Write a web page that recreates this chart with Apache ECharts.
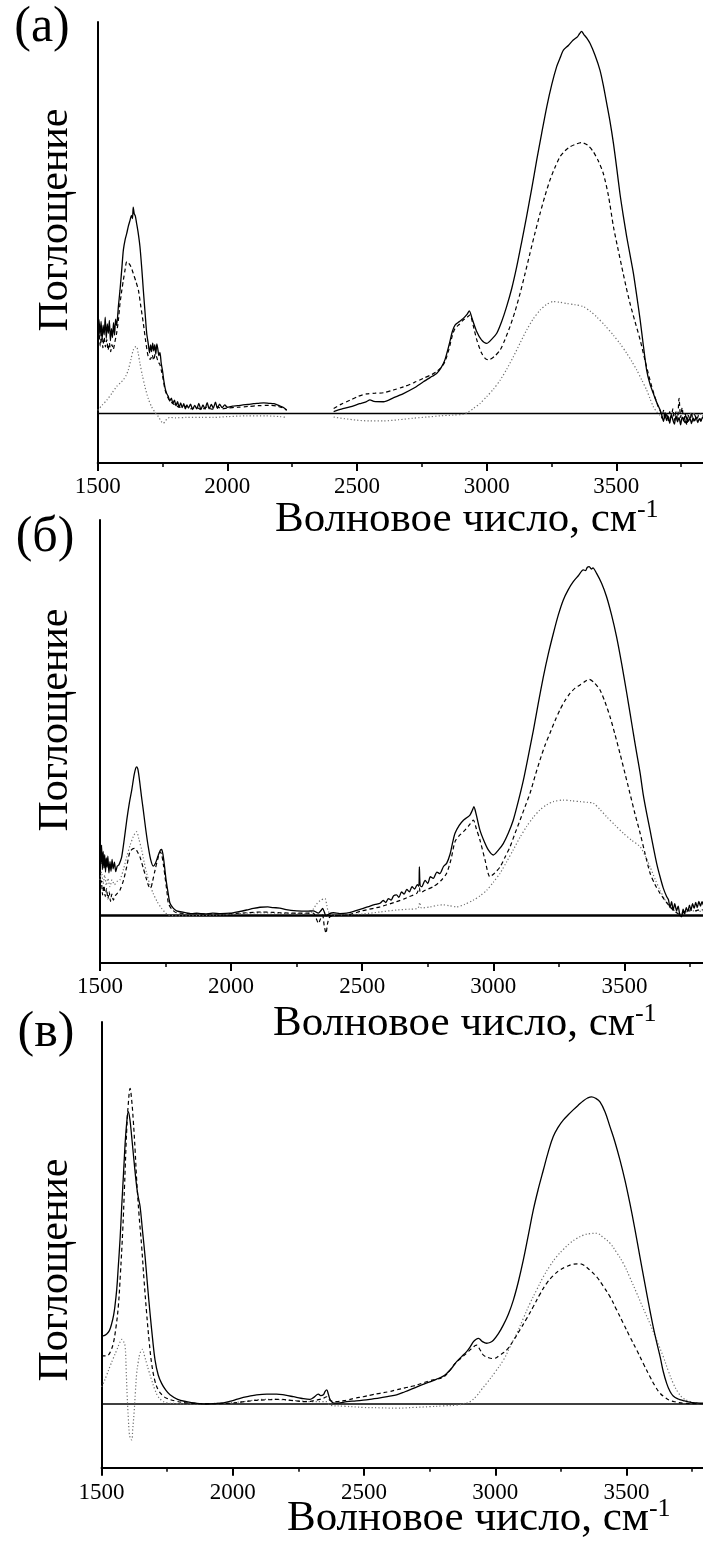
<!DOCTYPE html>
<html><head><meta charset="utf-8">
<script src="https://cdn.jsdelivr.net/npm/echarts@6/dist/echarts.min.js"></script>
<style>html,body{margin:0;padding:0;background:#fff}#c{width:703px;height:1542px}</style>
</head><body><div id="c"></div>
<script>
// Tick labels (x axis, wavenumber, cm-1)
const xTicks = [1500, 2000, 2500, 3000, 3500];
const panelLabels = ['(а)', '(б)', '(в)'];
const yTitle = 'Поглощение';
const xTitleMain = 'Волновое число, см';
const xTitleSup = '-1';

// Panel (а)
const aSolid = [[1500,21.5],[1505,24.0],[1509,19.8],[1513,23.5],[1517,18.9],[1521,22.6],[1525,20.1],[1529,24.6],[1533,19.2],[1537,22.9],[1541,20.5],[1545,23.8],[1549,18.6],[1553,21.7],[1557,19.4],[1561,23.2],[1565,20.0],[1569,24.1],[1573,22.5],[1580,27.5],[1586,31.5],[1593,37.0],[1599,41.8],[1606,44.5],[1612,46.0],[1618,47.8],[1625,49.4],[1630,50.6],[1634,49.8],[1637,52.7],[1641,51.0],[1645,50.5],[1650,48.6],[1656,46.2],[1663,42.6],[1670,37.0],[1676,31.5],[1683,25.5],[1689,20.5],[1695,17.8],[1700,15.5],[1704,17.5],[1708,15.8],[1712,18.0],[1716,16.0],[1720,17.6],[1724,15.2],[1728,17.8],[1732,16.4],[1736,14.8],[1740,15.6],[1745,12.8],[1750,10.9],[1755,8.4],[1760,6.5],[1766,5.1],[1772,4.4],[1778,3.2],[1784,3.9],[1790,2.6],[1796,3.4],[1802,2.0],[1808,3.0],[1814,1.6],[1820,2.7],[1826,1.5],[1832,2.5],[1838,1.2],[1844,2.2],[1850,1.4],[1858,2.4],[1866,1.0],[1874,2.1],[1882,1.2],[1890,2.6],[1898,1.0],[1906,2.2],[1914,1.1],[1922,2.8],[1930,1.2],[1938,2.3],[1946,1.4],[1954,2.9],[1962,1.3],[1970,2.4],[1980,1.5],[1990,2.2],[2000,1.6],[2020,1.9],[2040,2.0],[2060,2.2],[2080,2.3],[2100,2.5],[2120,2.6],[2140,2.7],[2160,2.6],[2180,2.5],[2200,2.0],[2215,1.6],[2229,0.9],[2300,null],
[2410,0.5],[2440,1.1],[2473,1.7],[2510,2.5],[2535,3.0],[2550,3.5],[2565,3.1],[2602,3.0],[2640,4.0],[2679,5.1],[2720,6.5],[2756,8.1],[2790,9.5],[2807,10.2],[2825,11.8],[2839,13.7],[2855,17.5],[2868,21.0],[2878,22.6],[2895,23.5],[2910,24.3],[2925,25.4],[2933,26.2],[2945,24.0],[2962,20.9],[2980,18.8],[3000,17.9],[3020,19.0],[3039,20.5],[3058,23.5],[3077,27.3],[3097,32.0],[3116,37.5],[3135,43.8],[3154,50.3],[3174,57.5],[3193,64.7],[3212,71.5],[3232,78.4],[3251,84.0],[3270,88.6],[3283,90.8],[3296,92.8],[3315,94.0],[3334,95.4],[3350,96.2],[3358,97.0],[3366,97.6],[3375,96.8],[3385,96.0],[3399,94.5],[3418,91.5],[3437,87.7],[3450,83.8],[3463,79.2],[3476,74.5],[3489,69.0],[3502,62.5],[3514,56.2],[3527,50.5],[3540,45.2],[3553,40.5],[3566,35.8],[3579,30.0],[3592,23.9],[3605,17.0],[3617,11.1],[3630,7.5],[3643,5.1],[3656,2.8],[3669,0.9],[3676,-0.6],[3682,-2.0],[3688,0.2],[3694,-1.8],[3700,-0.7],[3706,-2.5],[3712,-0.2],[3718,-1.6],[3724,-2.7],[3730,-0.6],[3736,-2.1],[3742,-1.0],[3748,-2.9],[3754,-0.9],[3760,-1.7],[3766,-2.4],[3772,-0.8],[3778,-2.0],[3784,-1.2],[3790,-2.6],[3796,-1.1],[3802,-1.9],[3808,-0.9],[3814,-2.3],[3820,-1.3],[3826,-2.0],[3832,-1.0],[3840,-1.7]];
const aDash = [[1500,18.5],[1505,21.0],[1510,17.2],[1515,20.4],[1520,16.8],[1525,19.5],[1530,17.0],[1535,18.9],[1540,16.2],[1545,18.0],[1550,15.8],[1555,17.6],[1560,16.4],[1566,18.2],[1573,20.5],[1580,24.0],[1586,28.1],[1593,31.5],[1599,34.1],[1605,36.5],[1612,38.8],[1618,38.5],[1625,37.9],[1631,37.0],[1637,35.8],[1647,33.8],[1657,31.5],[1666,27.5],[1676,23.0],[1685,18.5],[1695,14.5],[1703,13.8],[1710,15.0],[1716,13.6],[1722,15.2],[1727,14.5],[1733,13.2],[1740,12.5],[1747,10.5],[1753,8.6],[1760,6.0],[1772,3.9],[1785,2.8],[1800,2.1],[1817,1.6],[1840,1.8],[1860,1.2],[1880,1.6],[1900,1.0],[1920,1.6],[1940,1.1],[1960,1.7],[1980,1.2],[2000,1.4],[2040,1.6],[2080,1.8],[2120,2.0],[2160,2.1],[2190,1.9],[2215,1.4],[2229,0.8],[2300,null],
[2410,1.3],[2440,2.4],[2473,3.4],[2505,4.4],[2537,5.0],[2570,5.2],[2602,5.3],[2640,6.0],[2679,6.8],[2720,7.9],[2756,9.0],[2790,10.0],[2807,10.7],[2825,11.8],[2839,13.2],[2855,16.5],[2868,20.0],[2878,21.7],[2895,22.8],[2910,23.9],[2925,24.6],[2936,25.2],[2948,22.5],[2962,18.8],[2980,15.5],[2995,14.0],[3007,13.7],[3030,14.6],[3052,16.2],[3070,18.8],[3090,22.2],[3110,26.2],[3129,30.7],[3148,35.7],[3167,40.9],[3186,46.0],[3206,51.1],[3225,55.6],[3244,59.6],[3263,62.8],[3283,65.6],[3302,67.1],[3321,68.1],[3340,68.7],[3366,69.2],[3390,68.5],[3411,66.9],[3430,64.6],[3450,61.3],[3470,55.5],[3489,47.7],[3505,42.5],[3521,37.5],[3537,32.6],[3553,28.1],[3572,23.5],[3592,18.8],[3611,13.5],[3630,8.5],[3646,4.8],[3662,1.7],[3670,0.6],[3676,-1.2],[3682,0.8],[3688,-1.5],[3694,0.2],[3700,-2.0],[3706,0.5],[3712,-1.0],[3718,1.2],[3724,-1.8],[3730,0.4],[3736,-1.4],[3742,3.9],[3748,-1.0],[3754,1.5],[3760,-2.2],[3766,0.0],[3772,-3.0],[3778,-0.5],[3784,-1.6],[3790,0.3],[3796,-2.0],[3802,-0.3],[3810,-1.5],[3818,-0.4],[3826,-1.8],[3834,-0.6],[3840,-1.2]];
const aDot = [[1500,0.8],[1518,2.2],[1535,3.4],[1555,5.2],[1573,6.9],[1590,8.0],[1599,8.6],[1610,9.8],[1618,11.1],[1628,13.8],[1637,16.2],[1645,17.0],[1650,17.1],[1656,15.5],[1663,12.8],[1672,9.8],[1682,6.9],[1695,3.8],[1708,1.7],[1722,0.2],[1734,-0.8],[1745,-2.0],[1753,-2.5],[1762,-1.8],[1770,-1.2],[1779,-1.0],[1800,-1.1],[1843,-1.0],[1900,-1.0],[1946,-1.0],[2000,-0.8],[2075,-0.6],[2150,-0.6],[2203,-0.8],[2229,-1.0],[2300,null],
[2410,-0.9],[2450,-1.3],[2499,-1.7],[2550,-1.9],[2602,-1.9],[2660,-1.6],[2717,-1.2],[2770,-0.9],[2820,-0.6],[2870,-0.4],[2910,-0.2],[2930,0.4],[2949,1.3],[2975,2.6],[3000,4.3],[3026,6.2],[3052,8.5],[3078,11.4],[3103,14.5],[3129,18.0],[3154,21.3],[3180,24.2],[3206,26.4],[3230,27.8],[3257,28.6],[3283,28.4],[3309,28.1],[3340,27.8],[3373,27.3],[3400,26.1],[3424,24.7],[3456,22.5],[3489,20.0],[3515,17.8],[3540,15.4],[3560,13.3],[3579,11.1],[3598,8.6],[3617,6.0],[3630,3.8],[3643,1.7],[3656,0.4],[3669,-0.4],[3690,-0.2],[3710,0.3],[3730,-0.5],[3750,0.2],[3770,-0.4],[3790,0.1],[3810,-0.3],[3840,0.0]];

// Panel (б)
const bSolid = [[1500,19.1],[1503,13.0],[1506,17.8],[1509,11.6],[1512,16.2],[1515,12.0],[1518,15.4],[1521,11.0],[1524,14.6],[1527,12.2],[1530,15.0],[1534,10.8],[1538,13.6],[1542,11.2],[1546,14.2],[1550,11.8],[1555,13.5],[1560,11.1],[1566,12.5],[1572,12.8],[1578,13.8],[1583,14.9],[1592,19.0],[1602,24.1],[1612,28.5],[1621,31.7],[1630,35.5],[1636,37.2],[1640,37.6],[1645,36.8],[1652,33.5],[1658,30.2],[1665,26.7],[1675,21.5],[1684,17.4],[1693,14.2],[1703,12.5],[1712,13.3],[1722,15.2],[1730,16.5],[1735,16.7],[1740,15.5],[1746,12.5],[1752,9.0],[1760,5.6],[1767,3.1],[1780,1.8],[1792,1.2],[1820,0.8],[1850,0.5],[1869,0.6],[1900,0.4],[1930,0.6],[1960,0.5],[1996,0.6],[2030,1.0],[2059,1.4],[2085,1.8],[2110,2.1],[2140,2.2],[2160,2.0],[2186,1.9],[2210,1.5],[2250,1.2],[2290,1.1],[2313,1.2],[2333,0.6],[2342,1.2],[2349,1.8],[2356,0.8],[2362,-0.1],[2375,0.5],[2390,0.7],[2415,0.5],[2441,0.6],[2470,1.1],[2504,1.8],
[2530,2.4],[2550,2.8],[2568,3.1],[2580,3.8],[2590,3.3],[2600,4.3],[2610,3.9],[2620,5.0],[2631,5.2],[2640,4.6],[2650,6.0],[2660,5.4],[2670,6.6],[2680,6.0],[2690,7.3],[2700,6.7],[2710,7.8],[2716,7.4],[2718,12.3],[2721,7.6],[2727,7.3],[2740,8.9],[2750,8.1],[2760,9.8],[2771,9.4],[2785,11.0],[2796,10.6],[2810,12.4],[2822,13.2],[2835,15.5],[2845,18.5],[2854,20.8],[2870,22.8],[2886,24.1],[2900,24.8],[2911,25.4],[2920,26.6],[2926,27.5],[2935,25.5],[2949,21.6],[2965,18.8],[2981,16.6],[3000,15.3],[3020,16.6],[3038,18.2],[3057,20.8],[3076,24.1],[3095,28.8],[3115,34.3],[3134,40.5],[3153,46.9],[3172,53.8],[3191,60.4],[3210,66.2],[3229,71.3],[3248,76.0],[3267,79.8],[3286,82.4],[3305,84.4],[3324,85.9],[3343,87.4],[3352,87.2],[3358,88.0],[3366,88.2],[3374,87.6],[3380,87.9],[3394,86.5],[3413,84.0],[3432,80.6],[3451,76.0],[3470,70.5],[3490,63.5],[3509,56.2],[3522,51.0],[3534,46.1],[3547,41.0],[3560,36.0],[3572,30.5],[3585,25.8],[3598,21.5],[3610,17.4],[3623,13.2],[3636,9.8],[3648,7.0],[3661,4.8],[3668,4.0],[3674,2.0],[3680,3.5],[3686,1.3],[3692,3.0],[3699,1.2],[3705,2.4],[3711,0.3],[3718,-0.3],[3724,1.6],[3730,0.4],[3736,2.0],[3742,1.0],[3748,2.6],[3754,1.4],[3760,3.0],[3766,1.8],[3772,3.3],[3778,2.0],[3784,3.6],[3790,2.4],[3796,3.5],[3802,2.6],[3810,3.4],[3820,2.8],[3830,3.2],[3840,3.0]];
const bDash = [[1500,6.4],[1505,8.8],[1510,5.2],[1515,7.6],[1520,4.8],[1525,6.8],[1530,4.2],[1535,6.0],[1540,3.6],[1545,5.4],[1551,3.9],[1558,5.0],[1566,5.6],[1576,6.4],[1590,9.0],[1602,12.4],[1614,16.1],[1625,16.9],[1633,17.0],[1642,16.2],[1652,14.9],[1665,12.0],[1678,9.0],[1686,7.4],[1693,6.9],[1700,8.5],[1710,11.5],[1720,14.2],[1729,16.1],[1735,15.5],[1742,12.8],[1748,9.8],[1755,6.2],[1761,3.1],[1775,1.5],[1792,0.7],[1850,0.5],[1932,0.4],[2000,0.5],[2059,0.7],[2120,0.9],[2160,0.8],[2186,0.7],[2250,0.6],[2313,0.6],[2325,-0.8],[2333,-2.0],[2340,-1.0],[2349,0.1],[2355,-2.5],[2362,-4.5],[2368,-2.0],[2377,-0.3],[2400,0.0],[2441,0.1],[2500,1.2],
[2568,2.2],[2631,3.5],[2660,4.2],[2680,4.8],[2708,5.6],[2718,7.0],[2722,5.8],[2740,6.4],[2771,7.3],[2800,8.8],[2822,10.7],[2838,14.0],[2854,18.7],[2870,20.2],[2886,21.2],[2905,22.6],[2924,24.1],[2935,22.0],[2949,19.1],[2968,14.2],[2987,9.8],[3006,10.8],[3026,12.3],[3045,14.8],[3064,17.4],[3083,20.8],[3102,24.1],[3121,27.5],[3140,30.9],[3159,35.2],[3178,39.3],[3197,43.0],[3216,46.1],[3235,49.2],[3254,52.0],[3273,54.3],[3293,56.2],[3312,57.5],[3331,58.3],[3350,59.2],[3366,59.7],[3386,58.8],[3407,57.0],[3426,54.0],[3445,50.3],[3464,45.8],[3483,41.0],[3502,36.0],[3521,30.9],[3540,25.8],[3560,20.8],[3579,15.6],[3598,10.7],[3617,7.8],[3636,5.6],[3655,3.8],[3674,2.2],[3693,1.0],[3712,0.3],[3730,1.0],[3750,1.4],[3770,1.2],[3790,1.5],[3810,1.3],[3840,1.4]];
const bDot = [[1500,9.0],[1506,11.0],[1512,8.0],[1518,10.2],[1524,7.6],[1530,9.4],[1538,7.3],[1546,9.0],[1555,7.8],[1565,8.6],[1576,9.0],[1590,11.8],[1602,14.9],[1615,17.8],[1627,20.0],[1634,20.8],[1640,21.2],[1648,19.4],[1659,16.6],[1668,13.6],[1678,10.7],[1690,7.8],[1703,5.6],[1718,3.5],[1735,1.8],[1748,0.8],[1761,0.1],[1805,-0.1],[1870,0.0],[1932,0.1],[2000,0.3],[2059,0.6],[2120,0.7],[2186,0.6],[2250,0.5],[2301,0.6],[2315,1.8],[2326,2.9],[2340,3.8],[2358,4.3],[2365,2.6],[2371,1.0],[2390,0.1],[2450,0.2],[2504,0.4],
[2568,0.9],[2631,1.4],[2680,1.6],[2712,1.8],[2720,3.3],[2726,1.9],[2760,2.2],[2790,2.6],[2809,2.7],[2830,2.5],[2860,2.2],[2890,2.8],[2924,3.9],[2950,5.0],[2975,6.4],[3000,8.4],[3026,10.7],[3051,13.6],[3076,16.6],[3102,19.8],[3127,22.5],[3152,24.8],[3178,26.7],[3204,28.0],[3229,28.8],[3267,29.2],[3300,29.0],[3331,28.8],[3360,28.6],[3382,28.4],[3407,26.8],[3432,25.0],[3465,22.8],[3496,20.8],[3528,19.0],[3560,17.4],[3580,15.0],[3598,12.3],[3617,9.2],[3636,6.4],[3655,4.0],[3674,2.2],[3693,1.2],[3712,0.5],[3740,1.0],[3770,1.2],[3800,1.0],[3840,1.1]];

// Panel (в)
const cSolid = [[1500,17.8],[1510,17.9],[1520,18.3],[1530,19.2],[1539,21.1],[1546,23.2],[1551,25.5],[1558,30.0],[1564,36.0],[1571,43.5],[1577,51.7],[1584,60.5],[1590,68.2],[1596,73.6],[1602,76.5],[1608,74.6],[1615,70.0],[1624,63.5],[1634,56.9],[1641,53.8],[1647,51.7],[1656,45.5],[1666,38.6],[1676,30.5],[1685,23.7],[1695,16.8],[1704,11.5],[1716,7.6],[1729,5.4],[1745,3.6],[1761,2.4],[1790,1.2],[1824,0.6],[1860,0.2],[1901,0.0],[1930,0.1],[1964,0.3],[2000,0.9],[2028,1.5],[2060,2.0],[2091,2.4],[2130,2.6],[2167,2.6],[2200,2.3],[2231,1.9],[2260,1.5],[2294,1.2],[2310,1.8],[2326,2.6],[2335,2.2],[2345,2.4],[2352,3.3],[2358,3.7],[2364,2.6],[2372,1.0],[2386,0.2],[2400,0.2],[2434,0.6],[2470,0.8],[2497,1.0],[2530,1.3],[2561,1.6],[2593,2.0],[2624,2.4],[2656,3.2],[2688,4.1],[2720,5.0],[2751,5.8],[2777,6.5],[2802,7.3],[2815,8.0],[2828,8.9],[2840,9.9],[2853,11.1],[2872,12.4],[2891,13.7],[2904,14.9],[2917,16.3],[2926,16.9],[2936,17.2],[2950,16.4],[2967,15.9],[2980,16.1],[2993,16.7],[3012,18.4],[3031,20.7],[3050,23.5],[3069,27.2],[3088,32.0],[3107,37.7],[3126,44.2],[3145,50.8],[3164,56.3],[3183,61.2],[3202,66.0],[3221,70.0],[3240,72.5],[3259,74.3],[3278,75.7],[3297,77.0],[3316,78.2],[3336,79.4],[3352,80.1],[3367,80.4],[3383,80.0],[3399,79.1],[3418,76.5],[3437,72.6],[3456,68.6],[3475,63.9],[3494,58.6],[3513,52.5],[3532,45.8],[3551,38.6],[3570,31.5],[3589,24.6],[3608,18.2],[3628,12.4],[3640,8.5],[3653,5.4],[3665,3.4],[3678,2.1],[3697,1.3],[3716,0.9],[3740,0.5],[3767,0.3],[3800,0.2],[3840,0.1]];
const cDash = [[1500,12.6],[1513,12.6],[1526,12.8],[1536,14.0],[1545,15.9],[1555,20.0],[1564,25.5],[1572,34.0],[1581,45.6],[1588,57.5],[1596,71.7],[1602,78.5],[1609,82.6],[1615,79.5],[1621,74.3],[1628,66.5],[1634,58.6],[1643,49.5],[1653,41.2],[1662,32.5],[1672,23.7],[1681,16.8],[1691,10.6],[1703,6.2],[1716,3.7],[1732,2.3],[1748,1.5],[1780,0.8],[1824,0.3],[1900,0.1],[1990,0.2],[2030,0.5],[2078,0.9],[2130,1.1],[2180,1.2],[2230,0.9],[2282,0.6],[2310,0.9],[2332,1.2],[2345,1.5],[2358,1.9],[2370,1.0],[2390,0.6],[2434,1.0],[2465,1.5],[2497,1.9],[2530,2.4],[2561,2.8],[2593,3.2],[2624,3.7],[2656,4.2],[2688,4.7],[2720,5.4],[2751,6.1],[2777,6.5],[2802,7.0],[2825,8.6],[2847,10.6],[2870,12.0],[2891,13.3],[2910,14.5],[2929,15.4],[2942,14.2],[2955,12.8],[2975,12.1],[2993,11.9],[3018,12.8],[3043,14.1],[3069,16.6],[3094,19.4],[3120,22.4],[3145,25.5],[3170,28.7],[3196,31.6],[3221,33.6],[3247,35.1],[3272,36.0],[3297,36.6],[3320,36.7],[3336,36.4],[3361,35.0],[3386,33.3],[3411,30.9],[3437,28.1],[3462,24.7],[3488,21.1],[3513,17.6],[3539,14.1],[3564,10.6],[3589,7.2],[3608,4.8],[3628,2.8],[3647,1.7],[3666,0.9],[3690,0.5],[3716,0.2],[3760,0.1],[3840,0.0]];
const cDot = [[1500,4.5],[1507,5.4],[1520,7.6],[1532,9.8],[1545,12.0],[1558,14.1],[1568,15.8],[1577,16.9],[1584,16.4],[1590,15.0],[1594,9.0],[1598,1.9],[1602,-3.5],[1606,-7.7],[1610,-9.0],[1615,-9.4],[1619,-6.5],[1624,-2.4],[1629,3.0],[1634,8.0],[1640,11.0],[1647,13.3],[1656,14.3],[1663,12.8],[1672,10.6],[1681,8.5],[1691,6.3],[1703,3.8],[1716,1.9],[1730,0.9],[1748,0.3],[1790,0.1],[1824,0.0],[1900,0.1],[1990,0.3],[2050,0.7],[2116,1.2],[2160,1.2],[2206,1.0],[2260,0.8],[2307,0.6],[2340,0.6],[2358,0.6],[2370,-0.3],[2430,-0.6],[2497,-0.9],[2560,-1.0],[2624,-1.1],[2690,-0.9],[2751,-0.7],[2800,-0.5],[2853,-0.3],[2880,0.1],[2904,0.6],[2930,2.2],[2948,3.8],[2967,5.4],[3000,8.4],[3031,11.5],[3056,14.9],[3082,18.5],[3107,22.4],[3132,26.3],[3158,29.9],[3183,33.3],[3208,36.1],[3234,38.6],[3260,40.5],[3285,42.1],[3310,43.3],[3336,44.2],[3361,44.6],[3386,44.7],[3411,43.6],[3437,42.1],[3462,39.7],[3488,36.8],[3513,33.1],[3539,29.0],[3564,25.0],[3589,21.1],[3615,16.7],[3640,12.4],[3659,8.7],[3678,5.4],[3697,3.0],[3716,1.5],[3740,0.7],[3767,0.2],[3800,0.1],[3840,0.0]];

const baseline = [[1500,0],[4000,0]];

const FONT = "'Liberation Serif', 'Times New Roman', serif";
const panels = [
  {left:97.7, width:648.25, top:22, height:441, ymin:-12.64, ymax:100, solid:aSolid, dash:aDash, dot:aDot, zw:1.5, smooth:0.25, labelMargin:12},
  {left:100, width:655.5, top:520, height:443, ymin:-12.0, ymax:100, solid:bSolid, dash:bDash, dot:bDot, zw:2.5, smooth:0.25, labelMargin:12},
  {left:101.5, width:656.25, top:1022, height:445.7, ymin:-16.68, ymax:100, solid:cSolid, dash:cDash, dot:cDot, zw:1.5, smooth:0.4, labelMargin:14}
];

const grid = [], xAxis = [], yAxis = [], series = [];
panels.forEach((p, i) => {
  grid.push({left:p.left, top:p.top, width:p.width, height:p.height, containLabel:false, outerBoundsMode:'none'});
  xAxis.push({
    type:'value', gridIndex:i, min:1500, max:4000, interval:500,
    axisLine:{onZero:false, lineStyle:{color:'#000', width:2}},
    axisTick:{show:true, inside:false, length:8, lineStyle:{color:'#000', width:2}},
    minorTick:{show:true, splitNumber:2, length:4, lineStyle:{color:'#000', width:1.5}},
    splitLine:{show:false},
    axisLabel:{fontFamily:FONT, fontSize:23, color:'#000', margin:p.labelMargin, showMaxLabel:false,
      formatter: v => (xTicks.indexOf(v) >= 0 ? String(v) : '')}
  });
  yAxis.push({
    type:'value', gridIndex:i, min:p.ymin, max:p.ymax,
    axisLine:{show:true, onZero:false, lineStyle:{color:'#000', width:2}},
    axisTick:{show:false}, axisLabel:{show:false}, splitLine:{show:false}
  });
  const common = {type:'line', xAxisIndex:i, yAxisIndex:i, symbol:'none', connectNulls:false, animation:false, silent:true};
  series.push(Object.assign({}, common, {name:'baseline'+i, data:baseline, lineStyle:{color:'#000', width:p.zw}}));
  series.push(Object.assign({}, common, {name:'dot'+i, data:p.dot, smooth:p.smooth, lineStyle:{color:'#6e6e6e', width:1.2, type:[1.2,2.2]}}));
  series.push(Object.assign({}, common, {name:'dash'+i, data:p.dash, smooth:p.smooth, lineStyle:{color:'#000', width:1.2, type:[4,3]}}));
  series.push(Object.assign({}, common, {name:'solid'+i, data:p.solid, smooth:p.smooth, lineStyle:{color:'#000', width:1.3}}));
});

const labelPos = [[42,27.5],[45,538],[46,1033]];
const yTitlePos = [[56,220],[56,720],[56,1270]];
const xTitlePos = [[275,519.5],[273,1023.5],[287,1518.5]];
const graphic = [];
panelLabels.forEach((t, i) => {
  graphic.push({type:'text', x:labelPos[i][0], y:labelPos[i][1], silent:true,
    style:{text:t, fontFamily:FONT, fontSize:50, fill:'#000', align:'center', verticalAlign:'middle'}});
  graphic.push({type:'text', x:yTitlePos[i][0], y:yTitlePos[i][1], rotation:Math.PI/2, silent:true,
    style:{text:yTitle, fontFamily:FONT, fontSize:42, fill:'#000', align:'center', verticalAlign:'middle'}});
  graphic.push({type:'text', x:xTitlePos[i][0], y:xTitlePos[i][1], silent:true,
    style:{text:'{m|' + xTitleMain + '}{s|' + xTitleSup + '}', align:'left', verticalAlign:'middle',
      rich:{m:{fontFamily:FONT, fontSize:43, fill:'#000', lineHeight:44},
            s:{fontFamily:FONT, fontSize:26, fill:'#000', verticalAlign:'top', lineHeight:44}}}});
});

const chart = echarts.init(document.getElementById('c'), null, {renderer:'canvas'});
chart.setOption({animation:false, backgroundColor:'#fff', grid, xAxis, yAxis, series, graphic});
</script>
</body></html>
